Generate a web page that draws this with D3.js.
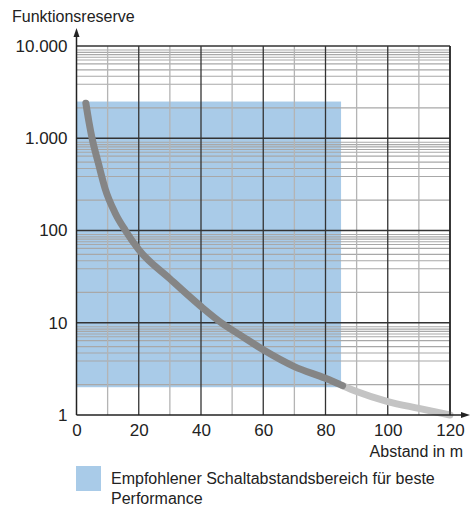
<!DOCTYPE html>
<html>
<head>
<meta charset="utf-8">
<script src="https://cdn.jsdelivr.net/npm/d3@7"></script>
<style>
  body { margin: 0; background: #fff; }
  text { font-family: "Liberation Sans", Arial, sans-serif; fill: #222; }
</style>
</head>
<body>
<div id="chart"></div>
<script>
// curve: Funktionsreserve over Abstand (m)
const curveDark = [
    [3, 2400], [4, 1500], [5, 1000], [7, 540], [9.2, 284], [12.4, 155],
    [15.7, 100], [20, 62], [30, 30], [40, 15], [46.5, 10], [53, 7.2],
    [60, 5.1], [70, 3.35], [80, 2.5], [85.5, 2.08]
];
const curveLight = [
    [85.5, 2.08], [90, 1.8], [100, 1.4], [110, 1.18], [120, 1]
];

// recommended range (blue area)
const rangeX = [0, 85];
const rangeY = [2, 2500];

const xTicks = [0, 20, 40, 60, 80, 100, 120];
const xMinor = [10, 30, 50, 70, 90, 110];
const yTicks = [1, 10, 100, 1000, 10000];
const yTickLabels = ['1', '10', '100', '1.000', '10.000'];
// the sub-decade grid lines as drawn in the picture (multipliers per decade)
const yMinorFactors = [2.13, 3.85, 4.7, 5.5, 6.4, 7.05, 7.55, 8.05, 8.55, 9.05];

const yTitle = 'Funktionsreserve';
const xTitle = 'Abstand in m';
const legendLines = ['Empfohlener Schaltabstandsbereich für beste', 'Performance'];

const width = 471, height = 510;
const svg = d3.select('#chart').append('svg')
    .attr('width', width)
    .attr('height', height);

const x = d3.scaleLinear().domain([0, 120]).range([76.5, 450]);
const y = d3.scaleLog().domain([1, 10000]).range([415, 46]);

const blue = '#a9cbe8';

// blue area
svg.append('rect')
    .attr('x', x(rangeX[0]))
    .attr('y', y(rangeY[1]))
    .attr('width', x(rangeX[1]) - x(rangeX[0]))
    .attr('height', y(rangeY[0]) - y(rangeY[1]))
    .attr('fill', blue);

// grid
const grid = svg.append('g');
const yMinor = [];
yTicks.slice(0, -1).forEach(d => yMinorFactors.forEach(f => yMinor.push(d * f)));

grid.selectAll('.ymin').data(yMinor).join('line')
    .attr('x1', x(0)).attr('x2', x(120))
    .attr('y1', d => y(d)).attr('y2', d => y(d))
    .attr('stroke', '#a8a8a8').attr('stroke-width', 1.2);

grid.selectAll('.xmin').data(xMinor).join('line')
    .attr('x1', d => x(d)).attr('x2', d => x(d))
    .attr('y1', y(1)).attr('y2', y(10000))
    .attr('stroke', '#b4b4b4').attr('stroke-width', 1.3);

grid.selectAll('.xmaj').data(xTicks.slice(1)).join('line')
    .attr('x1', d => x(d)).attr('x2', d => x(d))
    .attr('y1', y(1)).attr('y2', y(10000))
    .attr('stroke', '#333').attr('stroke-width', 1.3);

grid.selectAll('.ymaj').data(yTicks.slice(1)).join('line')
    .attr('x1', x(0)).attr('x2', x(120))
    .attr('y1', d => y(d)).attr('y2', d => y(d))
    .attr('stroke', '#333').attr('stroke-width', 1.5);

// curve
const line = d3.line()
    .x(d => x(d[0]))
    .y(d => y(d[1]))
    .curve(d3.curveMonotoneX);

svg.append('path')
    .datum(curveLight)
    .attr('d', line)
    .attr('fill', 'none')
    .attr('stroke', '#c4c4c4')
    .attr('stroke-width', 7)
    .attr('stroke-linecap', 'round');

svg.append('path')
    .datum(curveDark)
    .attr('d', line)
    .attr('fill', 'none')
    .attr('stroke', '#858585')
    .attr('stroke-width', 7)
    .attr('stroke-linecap', 'round');

// axes with arrows
svg.append('line')
    .attr('x1', x(0)).attr('x2', x(0))
    .attr('y1', y(1)).attr('y2', 34)
    .attr('stroke', '#222').attr('stroke-width', 1.5);
svg.append('path')
    .attr('d', `M${x(0) - 3},37 L${x(0)},28 L${x(0) + 3},37 Z`)
    .attr('fill', '#222');

svg.append('line')
    .attr('x1', x(0)).attr('x2', 464)
    .attr('y1', y(1)).attr('y2', y(1))
    .attr('stroke', '#222').attr('stroke-width', 1.5);
svg.append('path')
    .attr('d', `M461,${y(1) - 3} L470,${y(1)} L461,${y(1) + 3} Z`)
    .attr('fill', '#222');

svg.append('line')
    .attr('x1', x(120)).attr('x2', x(120))
    .attr('y1', y(1)).attr('y2', y(10000))
    .attr('stroke', '#222').attr('stroke-width', 1.5);

// tick labels
const yAxis = svg.append('g')
    .attr('transform', `translate(${x(0)},0)`)
    .call(d3.axisLeft(y).tickValues(yTicks)
        .tickFormat((d, i) => yTickLabels[i])
        .tickSize(0).tickPadding(9));
yAxis.select('.domain').remove();
yAxis.selectAll('text')
    .style('font-family', '"Liberation Sans", Arial, sans-serif')
    .style('font-size', '17px').attr('fill', '#222');

const xAxis = svg.append('g')
    .attr('transform', `translate(0,${y(1)})`)
    .call(d3.axisBottom(x).tickValues(xTicks).tickSize(0).tickPadding(9));
xAxis.select('.domain').remove();
xAxis.selectAll('text')
    .style('font-family', '"Liberation Sans", Arial, sans-serif')
    .style('font-size', '17px').attr('fill', '#222');

// titles
svg.append('text')
    .attr('x', 12).attr('y', 22)
    .style('font-size', '16px')
    .text(yTitle);

svg.append('text')
    .attr('x', 463).attr('y', 457)
    .attr('text-anchor', 'end')
    .style('font-size', '16px')
    .text(xTitle);

// legend
svg.append('rect')
    .attr('x', 76).attr('y', 466)
    .attr('width', 25).attr('height', 25)
    .attr('fill', blue);

svg.append('text')
    .attr('x', 111).attr('y', 484)
    .style('font-size', '16px')
    .selectAll('tspan').data(legendLines).join('tspan')
    .attr('x', 111)
    .attr('dy', (d, i) => i ? 20 : 0)
    .text(d => d);
</script>
</body>
</html>
